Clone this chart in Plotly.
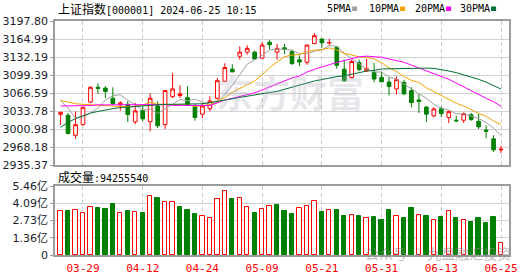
import plotly.graph_objects as go

# ---------------- data ----------------
dates = ["03-26","03-27","03-28","03-29","04-01","04-02","04-03","04-08","04-09","04-10",
         "04-11","04-12","04-15","04-16","04-17","04-18","04-19","04-22","04-23","04-24",
         "04-25","04-26","04-29","04-30","05-06","05-07","05-08","05-09","05-10","05-13",
         "05-14","05-15","05-16","05-17","05-20","05-21","05-22","05-23","05-24","05-27",
         "05-28","05-29","05-30","05-31","06-03","06-04","06-05","06-06","06-07","06-11",
         "06-12","06-13","06-14","06-17","06-18","06-19","06-20","06-21","06-24","06-25"]

opens = [3027.8,3026,2989.5,3009,3050,3077,3075.5,3057,3045,3046,
         3014,3035,3014.3,3043,3009,3060,3062,3058,3042,3028,
         3038,3057,3088,3110,3133.5,3141,3141,3130,3159,3141,
         3149,3142,3127,3122.5,3156.5,3165,3157.8,3150,3110,3095,
         3122,3107,3104,3095,3086.6,3074,3086,3071,3054,3041,
         3025,3038,3022,3017,3017,3027,3015,2999,2983,2963]
highs = [3032,3030,3033.2,3041,3078.5,3084.3,3078.8,3077,3051.5,3051.5,
         3048.4,3042.3,3066,3051.5,3072,3103,3080.6,3078.8,3046.5,3048.4,
         3060.6,3094,3120.7,3119,3151.7,3153.5,3143.7,3159.5,3163.7,3155.9,
         3155.9,3145.5,3135.3,3154.6,3175.9,3165.5,3165.5,3151.7,3127.3,3127.3,
         3127.3,3129.1,3121.3,3104.9,3095.2,3097,3090.8,3077,3064.8,3042.3,
         3040.5,3042.3,3034.3,3025.2,3031.4,3030.1,3028.3,3007.7,2989.5,2970.6]
lows = [3008.3,2991,2983.3,3007,3048,3065.3,3057.5,3045,3034.4,3013.7,
        3010,3015,2996.8,3002.8,3001,3057.5,3057.5,3044,3016.1,3021,
        3033.2,3054.4,3086.6,3104.9,3127.3,3136.4,3127.3,3129.1,3145.5,3127.3,
        3137.7,3118.2,3115.2,3118.2,3155.9,3148.6,3153.5,3110.9,3087,3092.6,
        3106.1,3104.9,3086.6,3086.6,3062.4,3063.5,3062.4,3040.5,3030.1,3013.7,
        3022.3,3022.8,3011.9,3013.2,3011.9,3016.1,3001,2984.6,2959.1,2957.2]
closes = [3031.4,2993,3008.8,3040.5,3077,3075,3069.3,3047,3048.5,3027.3,
          3034,3019.5,3057,3007,3071,3074,3065,3044.6,3022,3043,
          3052,3089,3113,3105,3141,3148,3128.5,3154,3154.5,3148,
          3146,3120,3123,3154,3171,3158,3158.5,3117,3089,3124,
          3109.6,3111,3092,3087,3078.5,3091,3065,3049,3051,3028,
          3037.5,3029,3032.6,3015.9,3029,3018,3005,2997,2963,2964]

ma5 = [3053,3039,3021,3023,3030.1,3038.9,3054.1,3061.8,3063.4,3053.4,
       3045.2,3035.3,3037.3,3029.0,3037.7,3045.7,3054.8,3052.3,3055.3,3049.7,
       3045.3,3050.1,3063.8,3080.4,3100,3119.2,3127.1,3135.3,3145.2,3146.6,
       3146.2,3144.5,3138.3,3138.2,3142.8,3145.2,3152.9,3151.7,3138.7,3129.3,
       3119.6,3110.1,3105.1,3104.7,3095.6,3091.9,3082.7,3074.1,3066.9,3056.8,
       3046.1,3038.9,3035.6,3028.6,3028.8,3024.9,3020.1,3013.0,3002.4,2989.4]
ma10 = [3053,3050,3047,3046,3045,3044,3044,3043,3042,3041.8,
        3042.0,3044.7,3049.5,3046.2,3045.6,3045.5,3045.0,3044.8,3042.1,3043.7,
        3045.5,3052.5,3058.1,3067.9,3074.9,3082.3,3088.6,3099.6,3112.8,3123.3,
        3132.7,3135.8,3136.8,3141.7,3144.7,3145.7,3148.7,3145.0,3138.5,3136.1,
        3132.4,3131.5,3128.4,3121.7,3112.5,3105.8,3096.4,3089.6,3085.8,3076.2,
        3069.0,3060.8,3054.9,3047.8,3042.8,3035.5,3029.5,3024.3,3015.5,3009.1]
ma20 = [3043,3043.5,3043.5,3043.5,3043.5,3045,3045,3045,3045,3045,
        3045,3045.5,3045.5,3045.5,3045.5,3044,3044,3044,3044,3042.7,
        3043.8,3048.6,3053.8,3057.0,3060.2,3063.9,3066.8,3072.2,3077.5,3083.5,
        3089.1,3094.1,3097.4,3104.8,3109.8,3114.0,3118.7,3122.3,3125.6,3129.7,
        3132.6,3133.7,3132.6,3131.7,3128.6,3125.7,3122.6,3117.3,3112.1,3106.1,
        3100.7,3096.2,3091.6,3084.7,3077.6,3070.6,3063.0,3057.0,3050.7,3042.7]
ma30 = [3004,3013,3020,3025,3030,3033,3036,3038,3040,3041,
        3043,3044,3045,3046,3046,3046,3046,3046,3046,3047,
        3049,3051,3053.5,3056,3058.5,3061,3063,3065.5,3067.5,3069.6,
        3073.4,3077.7,3081.5,3085.2,3088.4,3091.1,3094.1,3096.4,3097.8,3101.0,
        3103.5,3106.6,3107.8,3110.4,3110.7,3111.2,3111.2,3111.4,3112.4,3111.9,
        3111.4,3109.4,3106.7,3103.7,3100.0,3095.7,3091.5,3086.4,3079.9,3073.8]

# volume in 亿 (1e8 shares); direction R = up vs previous close, G = down
volume = [3.48,3.48,3.56,3.30,3.77,3.72,3.64,4.03,3.30,3.48,
          3.40,3.32,4.64,4.48,4.17,4.17,3.80,3.56,3.24,3.09,
          2.90,4.43,5.06,4.43,4.48,3.77,3.32,3.64,3.88,3.96,
          3.51,3.24,3.72,3.88,4.27,3.43,3.56,3.56,3.09,3.16,
          3.09,2.93,3.01,2.77,3.56,3.09,2.93,3.72,3.16,3.09,
          2.77,3.01,3.48,2.93,2.77,2.61,2.93,2.53,3.01,0.94]
vol_dir = ("RGRRRGGGRGRGRGRRGGGR"
           "RRRGRRGRRGGGRRRGRGGR"
           "GRGGGRGGRGRGRGRGGGGR")

price_ticks = [2935.37,2968.18,3000.98,3033.78,3066.59,3099.39,3132.19,3164.99,3197.80]
price_tick_text = ["2935.37","2968.18","3000.98","3033.78","3066.59","3099.39","3132.19","3164.99","3197.80"]
vol_ticks = [0,1.365,2.73,4.095,5.46]
vol_tick_text = ["0","1.36亿","2.73亿","4.09亿","5.46亿"]
date_ticks = ["03-29","04-12","04-24","05-09","05-21","05-31","06-13","06-25"]
last_volume_text = "94255540"

# ---------------- figure ----------------
W, H = 530, 276
ML, MR, MT, MB = 55, 21, 21, 21
PW, PH = W - ML - MR, H - MT - MB

def xp(px):
    return (px - ML) / PW

def yp(py):
    return (H - MB - py) / PH

x = list(range(len(dates)))
tick_idx = [dates.index(d) for d in date_ticks]

RED = "#ff0000"
GREEN = "#008000"

fig = go.Figure()

fig.add_trace(go.Candlestick(
    x=x, open=opens, high=highs, low=lows, close=closes,
    increasing=dict(line=dict(color=RED, width=1), fillcolor="#ffffff"),
    decreasing=dict(line=dict(color=GREEN, width=1), fillcolor=GREEN),
    whiskerwidth=0, xaxis="x", yaxis="y", hoverinfo="skip", showlegend=False))

ma_styles = [(ma5, "#a0a0a0"), (ma10, "#f5a200"), (ma20, "#ff00ff"), (ma30, "#006e32")]
for arr, col in ma_styles:
    fig.add_trace(go.Scatter(x=x, y=arr, mode="lines", line=dict(color=col, width=1),
                             xaxis="x", yaxis="y", hoverinfo="skip", showlegend=False))

up_x = [i for i in x if vol_dir[i] == "R"]
dn_x = [i for i in x if vol_dir[i] == "G"]
fig.add_trace(go.Bar(x=up_x, y=[volume[i] for i in up_x], width=0.58,
                     marker=dict(color="#ffffff", line=dict(color=RED, width=1)),
                     xaxis="x2", yaxis="y2", hoverinfo="skip", showlegend=False))
fig.add_trace(go.Bar(x=dn_x, y=[volume[i] for i in dn_x], width=0.58,
                     marker=dict(color=GREEN, line=dict(color=GREEN, width=1)),
                     xaxis="x2", yaxis="y2", hoverinfo="skip", showlegend=False))

xr = [-0.75, 60.07]
frame = "#9c9c9c"
YFONT = dict(family="DejaVu Sans, Noto Sans CJK SC", size=11, color="#1c1c2a")
common_x = dict(range=xr, tickvals=tick_idx, showgrid=True, gridcolor="#c8c8c8",
                griddash="4px,3px", gridwidth=1, zeroline=False, showline=True,
                mirror=True, linecolor=frame, linewidth=1.5, fixedrange=True,
                automargin=False)
fig.update_layout(
    width=W, height=H, margin=dict(l=ML, r=MR, t=MT, b=MB, pad=0, autoexpand=False),
    paper_bgcolor="#ffffff", plot_bgcolor="#ffffff",
    bargap=0, showlegend=False,
    xaxis=dict(domain=[0, 1], anchor="y", showticklabels=False,
               rangeslider=dict(visible=False), **common_x),
    xaxis2=dict(domain=[0, 1], anchor="y2", matches="x", showticklabels=True,
                ticktext=date_ticks, ticks="outside", ticklen=2,
                tickcolor="rgba(0,0,0,0)",
                tickfont=dict(family="DejaVu Sans Mono", size=11, color=RED),
                **common_x),
    yaxis=dict(domain=[yp(165), 1], anchor="x", range=[price_ticks[0], price_ticks[-1]],
               tickvals=price_ticks, ticktext=price_tick_text, showgrid=True,
               gridcolor="#d2d2d2", gridwidth=1, zeroline=False, ticks="outside",
               ticklen=3, tickcolor=frame, showline=True, mirror=True,
               linecolor=frame, linewidth=1.5, automargin=False, tickfont=YFONT),
    yaxis2=dict(domain=[0, yp(186)], anchor="x2", range=[0, 5.46],
                tickvals=vol_ticks, ticktext=vol_tick_text, showgrid=True,
                gridcolor="#d2d2d2", gridwidth=1, zeroline=False, ticks="outside",
                ticklen=3, tickcolor=frame, showline=True, mirror=True,
                linecolor=frame, linewidth=1.5, automargin=False, tickfont=YFONT),
)

ann = []
def text(px, py, s, fam, size, color="#000000", anchor="left"):
    ann.append(dict(x=xp(px), y=yp(py), xref="paper", yref="paper", text=s,
                    showarrow=False, xanchor=anchor, yanchor="middle",
                    font=dict(family=fam, size=size, color=color)))

MONO = "font-family:'DejaVu Sans Mono';font-size:10px"

# watermarks
text(290, 92, "<b>东方财富</b>", "Noto Sans CJK SC", 37, "rgba(170,170,185,0.28)", "center")
text(438, 253, "公众号 · 九盘融汇投资", "Noto Sans CJK SC", 14, "rgba(130,130,130,0.55)", "center")

# title
text(56, 8.5, "上证指数<span style=\"" + MONO + "\">[000001] 2024-06-25 10:15</span>",
     "Noto Sans CJK SC", 12)
# volume caption
text(56, 176, "成交量<span style=\"" + MONO + "\">:" + last_volume_text + "</span>",
     "Noto Sans CJK SC", 12)

# MA legend
legend_items = [("5PMA", 325, "#a0a0a0"), ("10PMA", 367, "#f5a200"),
                ("20PMA", 413, "#ff00ff"), ("30PMA", 458, "#006e32")]
shapes = []
for label, px, col in legend_items:
    text(px, 9, label, "DejaVu Sans Mono", 10)
    sx = px + 6.02 * len(label) + 3
    shapes.append(dict(type="rect", xref="paper", yref="paper",
                       x0=xp(sx), x1=xp(sx + 5), y0=yp(11), y1=yp(6.5),
                       fillcolor=col, line=dict(width=0)))

fig.update_layout(annotations=ann, shapes=shapes)
fig.write_html("out.html")
